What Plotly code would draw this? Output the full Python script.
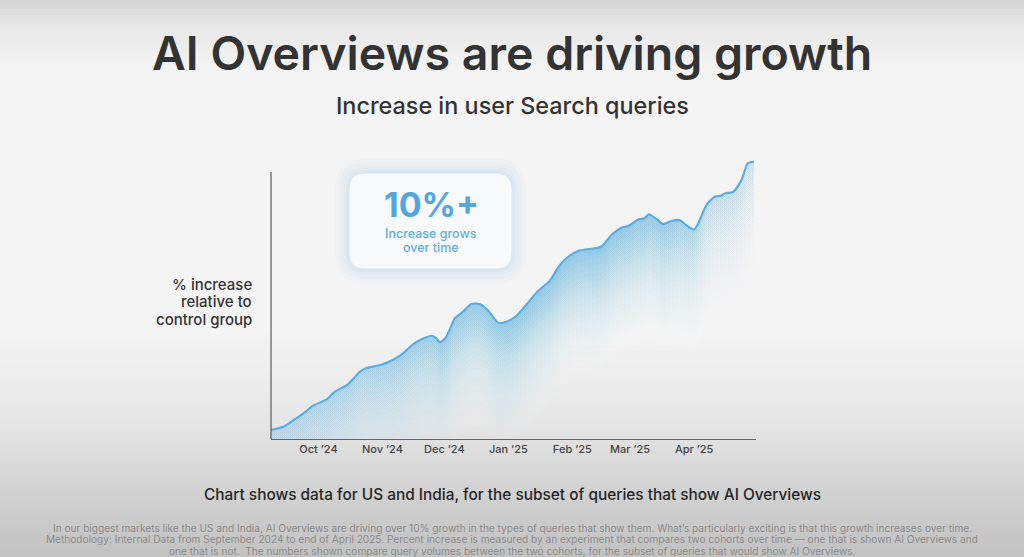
import math
import plotly.graph_objects as go

# ---------------- data ----------------
dates = ["2024-09-08", "2024-09-14", "2024-09-19", "2024-09-24", "2024-09-28",
         "2024-10-05", "2024-10-09", "2024-10-15", "2024-10-21", "2024-10-24",
         "2024-10-31", "2024-11-06", "2024-11-11", "2024-11-16", "2024-11-21",
         "2024-11-25", "2024-11-27", "2024-11-29", "2024-12-02", "2024-12-06",
         "2024-12-10", "2024-12-14", "2024-12-18", "2024-12-22", "2024-12-27",
         "2024-12-31", "2025-01-05", "2025-01-10", "2025-01-15", "2025-01-21",
         "2025-01-26", "2025-01-30", "2025-02-04", "2025-02-10", "2025-02-15",
         "2025-02-20", "2025-02-25", "2025-02-28", "2025-03-05", "2025-03-08",
         "2025-03-10", "2025-03-14", "2025-03-17", "2025-03-21", "2025-03-25",
         "2025-03-28", "2025-04-01", "2025-04-03", "2025-04-07", "2025-04-11",
         "2025-04-14", "2025-04-16", "2025-04-20", "2025-04-24", "2025-04-27",
         "2025-04-30"]
pct_increase = [0.40, 0.55, 0.85, 1.16, 1.48,
                1.78, 2.13, 2.43, 3.02, 3.18,
                3.33, 3.55, 3.85, 4.27, 4.53,
                4.64, 4.53, 4.35, 4.60, 5.42,
                5.72, 6.07, 6.07, 5.80, 5.23,
                5.27, 5.54, 6.07, 6.62, 7.10,
                7.82, 8.19, 8.46, 8.55, 8.64,
                9.17, 9.51, 9.57, 9.87, 9.92,
                10.10, 9.87, 9.66, 9.80, 9.84,
                9.62, 9.42, 9.69, 10.52, 10.89,
                10.93, 11.04, 11.11, 11.64, 12.39,
                12.46]
tick_dates = ["2024-10-01", "2024-11-01", "2024-12-01", "2025-01-01",
              "2025-02-01", "2025-03-01", "2025-04-01"]
tick_labels = ["Oct \u201924", "Nov \u201924", "Dec \u201924", "Jan \u201925",
               "Feb \u201925", "Mar \u201925", "Apr \u201925"]

title = "AI Overviews are driving growth"
subtitle = "Increase in user Search queries"
y_label_lines = ["% increase", "relative to", "control group"]
callout_big = "10%+"
callout_small = ["Increase grows", "over time"]
caption = "Chart shows data for US and India, for the subset of queries that show AI Overviews"
footnotes = [
    "In our biggest markets like the US and India, AI Overviews are driving over 10% growth in the types of queries that show them. What\u2019s particularly exciting is that this growth increases over time.",
    "Methodology: Internal Data from September 2024 to end of April 2025. Percent increase is measured by an experiment that compares two cohorts over time \u2014 one that is shown AI Overviews and",
    "one that is not.  The numbers shown compare query volumes between the two cohorts, for the subset of queries that would show AI Overviews.",
]

# ---------------- layout geometry ----------------
W, H = 1024, 557
L, R, T, B = 271, 268, 158, 118
PW, PH = W - L - R, H - T - B


def px(x):
    return (x - L) / PW


def py(y):
    return (H - B - y) / PH


FONT = "Inter"
BLUE = "#58ace0"
LINE_SHAPE = dict(shape="spline", smoothing=0.6)

fig = go.Figure()

# whitish haze under the curve (styling only)
for k in range(5, 0, -1):
    lower = [v - k * 1.1 for v in pct_increase]
    fig.add_trace(go.Scatter(x=dates, y=lower, mode="lines",
                             line=dict(width=0, **LINE_SHAPE),
                             hoverinfo="skip", showlegend=False))
    fig.add_trace(go.Scatter(x=dates, y=pct_increase, mode="lines",
                             line=dict(width=0, **LINE_SHAPE), fill="tonexty",
                             fillcolor="rgba(252,253,254,0.08)",
                             hoverinfo="skip", showlegend=False))

# soft blue glow under the line: nested, overlapping bands (styling only)
N_BANDS = 20
BAND_DEPTH = 0.25
x_profile = [(0.0, 0.45), (0.20, 0.65), (0.40, 0.92), (0.55, 1.0), (0.72, 1.0),
             (0.83, 0.85), (0.90, 0.45), (1.0, 0.28)]
for k in range(N_BANDS, 0, -1):
    a_k = 0.13 * math.exp(-k / 8.5)
    lower = [v - k * BAND_DEPTH for v in pct_increase]
    fig.add_trace(go.Scatter(x=dates, y=lower, mode="lines",
                             line=dict(width=0, **LINE_SHAPE),
                             hoverinfo="skip", showlegend=False))
    cs = [[p, "rgba(92,178,226,%.3f)" % max(0.006, a_k * m)] for p, m in x_profile]
    fig.add_trace(go.Scatter(x=dates, y=pct_increase, mode="lines",
                             line=dict(width=0, **LINE_SHAPE),
                             fill="tonexty",
                             fillgradient=dict(type="horizontal", colorscale=cs),
                             hoverinfo="skip", showlegend=False))

fig.add_trace(go.Scatter(
    x=dates, y=pct_increase, mode="lines",
    line=dict(color=BLUE, width=2.1, **LINE_SHAPE),
    hoverinfo="skip", showlegend=False))

shapes = []
# background vertical gradient (stripes)
stops = [(0, (212, 212, 212)), (25, (231, 231, 231)), (70, (244, 244, 244)),
         (330, (244, 244, 244)), (420, (230, 230, 230)), (480, (213, 213, 213)),
         (557, (194, 194, 194))]


def bg_color(y):
    for (y0, c0), (y1, c1) in zip(stops[:-1], stops[1:]):
        if y0 <= y <= y1:
            t = (y - y0) / (y1 - y0)
            return tuple(round(a + (b - a) * t) for a, b in zip(c0, c1))
    return stops[-1][1]


step = 3
for y in range(0, H, step):
    c = bg_color(y + step / 2)
    shapes.append(dict(type="rect", xref="paper", yref="paper",
                       x0=px(-5), x1=px(W + 5), y0=py(y + step + 0.5), y1=py(y),
                       fillcolor="rgb(%d,%d,%d)" % c, line=dict(width=0),
                       layer="below"))

# y-axis line
shapes.append(dict(type="line", xref="paper", yref="y", x0=0, x1=0, y0=0, y1=12,
                   line=dict(color="#666666", width=1.3)))


def rounded_rect(x0, y0, x1, y1, r):
    def P(x, y):
        return "%f,%f" % (px(x), py(y))
    return ("M " + P(x0 + r, y0) + " L " + P(x1 - r, y0) +
            " Q " + P(x1, y0) + " " + P(x1, y0 + r) +
            " L " + P(x1, y1 - r) + " Q " + P(x1, y1) + " " + P(x1 - r, y1) +
            " L " + P(x0 + r, y1) + " Q " + P(x0, y1) + " " + P(x0, y1 - r) +
            " L " + P(x0, y0 + r) + " Q " + P(x0, y0) + " " + P(x0 + r, y0) + " Z")


bx0, by0, bx1, by1 = 349, 173, 512, 269
for g, a in [(14, 0.05), (10, 0.06), (6, 0.08), (3, 0.10)]:
    shapes.append(dict(type="path", xref="paper", yref="paper",
                       path=rounded_rect(bx0 - g, by0 - g, bx1 + g, by1 + g, 16 + g),
                       fillcolor="rgba(150,200,235,%f)" % a, line=dict(width=0)))
shapes.append(dict(type="path", xref="paper", yref="paper",
                   path=rounded_rect(bx0, by0, bx1, by1, 16),
                   fillcolor="rgba(247,249,251,1)", line=dict(color="rgba(215,232,245,1)", width=1)))

annotations = []


def txt(text, x, y, size, color, weight=400, xanchor="center", family=FONT):
    annotations.append(dict(text=text, x=px(x), y=py(y), xref="paper", yref="paper",
                            xanchor=xanchor, yanchor="middle", showarrow=False,
                            font=dict(family=family, size=size, color=color, weight=weight)))


txt(title, 512, 53, 46.5, "#333333", 600)
txt(subtitle, 512, 105, 23.4, "#333333", 500)
for i, line in enumerate(y_label_lines):
    txt(line, 254, 284 + i * 17.5, 15, "#333333", 500, xanchor="right")
txt(callout_big, 431, 204, 34, "#55a6dc", 700)
txt(callout_small[0], 431, 233, 12.5, "#62addf", 500)
txt(callout_small[1], 431, 247, 12.5, "#62addf", 500)
txt(caption, 512, 494, 15.4, "#262626", 500)
for i, line in enumerate(footnotes):
    txt(line, 512, 528 + i * 11.4, 10.1, "#8a8a8a", 400)

fig.update_layout(
    width=W, height=H,
    margin=dict(l=L, r=R, t=T, b=B),
    paper_bgcolor="#f4f4f4",
    plot_bgcolor="rgba(0,0,0,0)",
    shapes=shapes,
    annotations=annotations,
    xaxis=dict(type="date", range=["2024-09-08", "2025-05-01"],
               tickvals=tick_dates, ticktext=tick_labels, ticks="",
               showgrid=False, zeroline=False, showline=True,
               linecolor="#666666", linewidth=1.3,
               tickfont=dict(family=FONT, size=11, color="#444444", weight=500),
               fixedrange=True),
    yaxis=dict(range=[0, 12.63], showticklabels=False, showgrid=False,
               zeroline=False, showline=False, ticks="", fixedrange=True),
    font=dict(family=FONT),
)

fig.write_html("out.html")
